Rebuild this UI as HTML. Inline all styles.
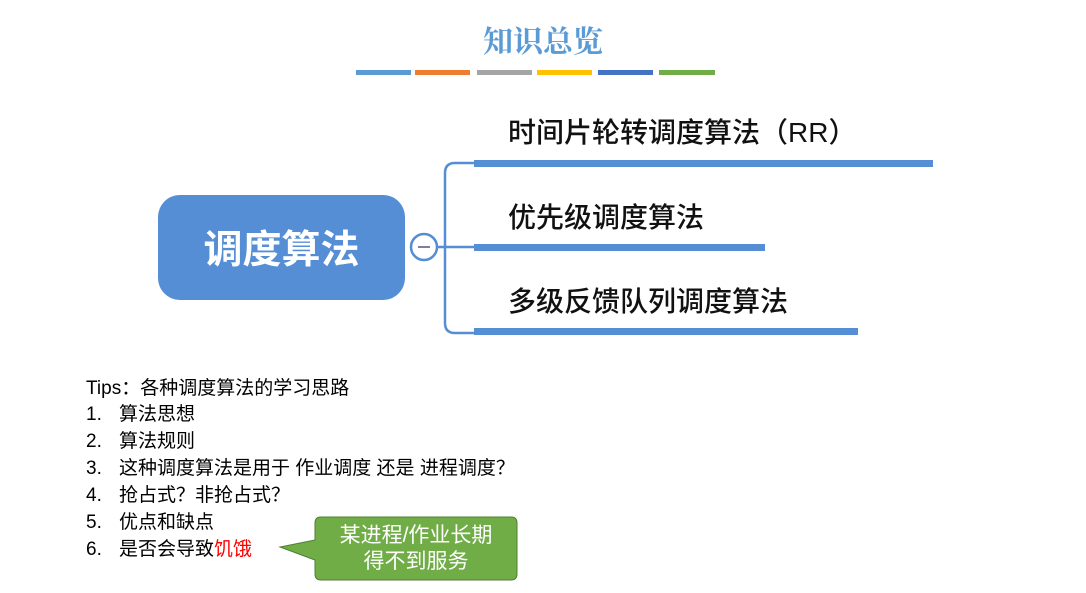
<!DOCTYPE html>
<html><head><meta charset="utf-8"><style>
body{margin:0;width:1086px;height:593px;background:#fff;position:relative;overflow:hidden;font-family:"Liberation Sans","Noto Sans CJK SC",sans-serif}
.a{position:absolute;white-space:nowrap}
.t{font-size:28px;color:#111;line-height:1;font-weight:500}
.tip{font-size:19px;color:#000;line-height:1;left:86px}
.tip span{display:inline-block;width:33px}
</style></head><body>
<div class="a" style="left:0;width:1086px;text-align:center;top:17px;font-size:30px;color:#5b9bd5;font-family:'Noto Serif CJK SC',serif;font-weight:bold">知识总览</div>
<div class="a" style="left:356px;top:70px;width:55px;height:5px;background:#5b9bd5"></div>
<div class="a" style="left:415px;top:70px;width:55px;height:5px;background:#ed7d31"></div>
<div class="a" style="left:477px;top:70px;width:55px;height:5px;background:#a5a5a5"></div>
<div class="a" style="left:537px;top:70px;width:55px;height:5px;background:#ffc000"></div>
<div class="a" style="left:598px;top:70px;width:55px;height:5px;background:#4472c4"></div>
<div class="a" style="left:659px;top:70px;width:56px;height:5px;background:#70ad47"></div>

<svg class="a" style="left:0;top:0" width="1086" height="593">
<rect x="158" y="195" width="247" height="105" rx="22" fill="#558ed5"/>
<path d="M437,247 H474 M474,163 H455 Q445,163 445,173 V323 Q445,333 455,333 H474" fill="none" stroke="#558ed5" stroke-width="2.5"/>
<circle cx="424" cy="247" r="13" fill="#fff" stroke="#558ed5" stroke-width="2.5"/>
<line x1="418" y1="247" x2="430" y2="247" stroke="#7f7fa0" stroke-width="2"/>
<rect x="474" y="160" width="459" height="7" fill="#558ed5"/>
<rect x="474" y="244" width="291" height="7" fill="#558ed5"/>
<rect x="474" y="328" width="384" height="7" fill="#558ed5"/>
<path d="M321,517 H511 Q517,517 517,523 V574 Q517,580 511,580 H321 Q315,580 315,574 V560 L280,547 L315,540 V523 Q315,517 321,517 Z" fill="#70ad47" stroke="#507e32" stroke-width="1"/>
</svg>
<div class="a" style="left:158px;top:231px;width:247px;text-align:center;color:#fff;font-size:39px;font-weight:bold;line-height:1">调度算法</div>
<div class="a t" style="left:508px;top:119px">时间片轮转调度算法（RR）</div>
<div class="a t" style="left:508px;top:204px">优先级调度算法</div>
<div class="a t" style="left:508px;top:288px">多级反馈队列调度算法</div>

<div class="a tip" style="top:379px">Tips：各种调度算法的学习思路</div>
<div class="a tip" style="top:405px"><span>1.</span>算法思想</div>
<div class="a tip" style="top:432px"><span>2.</span>算法规则</div>
<div class="a tip" style="top:459px"><span>3.</span>这种调度算法是用于 作业调度 还是 进程调度？</div>
<div class="a tip" style="top:486px"><span>4.</span>抢占式？非抢占式？</div>
<div class="a tip" style="top:513px"><span>5.</span>优点和缺点</div>
<div class="a tip" style="top:540px"><span>6.</span>是否会导致<b style="color:#f00;font-weight:normal">饥饿</b></div>

<div class="a" style="left:315px;top:523px;width:202px;text-align:center;color:#fff;font-size:21px;line-height:26px">某进程/作业长期<br>得不到服务</div>
</body></html>
